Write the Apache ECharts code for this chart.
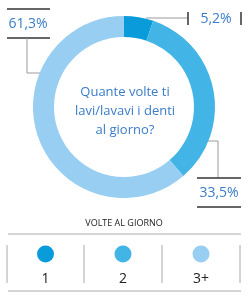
<!DOCTYPE html>
<html><head><meta charset="utf-8">
<script src="https://cdn.jsdelivr.net/npm/echarts@6/dist/echarts.min.js"></script>
<style>html,body{margin:0;padding:0;background:#fff}#c{width:250px;height:300px}</style>
</head><body><div id="c"></div>
<script>
var categories = ['1', '2', '3+'];
var values = [5.2, 33.5, 61.3];
var colors = ['#0a9bda', '#42b4e6', '#98cef1'];
var centerTitle = 'Quante volte ti\nlavi/lavavi i denti\nal giorno?';
var legendTitle = 'VOLTE AL GIORNO';

function fmt(v){ return v.toFixed(1).replace('.', ',') + '%'; }

var chart = echarts.init(document.getElementById('c'), null, {renderer:'canvas'});
var font = '"Open Sans", "Noto Sans", sans-serif';
var dark = '#333';
var grey = '#9a9a9a';
var blue = '#3a7cc8';

var g = [];
// center text
g.push({type:'text', left:'center', top:83, style:{text:centerTitle, font:'13px ' + font, fill:blue, textAlign:'center', lineHeight:19}});
// 5,2% label
g.push({type:'line', shape:{x1:146,y1:18,x2:188,y2:18}, style:{stroke:grey, lineWidth:1}});
g.push({type:'line', shape:{x1:188,y1:12,x2:188,y2:25}, style:{stroke:dark, lineWidth:1.5}});
g.push({type:'text', x:216, y:19, style:{text:fmt(values[0]), font:'14px ' + font, fill:blue, textAlign:'center', textVerticalAlign:'middle'}});
g.push({type:'line', shape:{x1:241,y1:12,x2:241,y2:25}, style:{stroke:dark, lineWidth:1.5}});
// 61,3% label
g.push({type:'line', shape:{x1:7,y1:9,x2:50,y2:9}, style:{stroke:dark, lineWidth:1.5}});
g.push({type:'text', x:28, y:24, style:{text:fmt(values[2]), font:'14px ' + font, fill:blue, textAlign:'center', textVerticalAlign:'middle'}});
g.push({type:'line', shape:{x1:7,y1:38,x2:50,y2:38}, style:{stroke:dark, lineWidth:1.5}});
g.push({type:'polyline', shape:{points:[[27,38],[27,73],[52,73]]}, style:{stroke:grey, lineWidth:1, fill:null}});
// 33,5% label
g.push({type:'polyline', shape:{points:[[198,141],[218,141],[218,178]]}, style:{stroke:grey, lineWidth:1, fill:null}});
g.push({type:'line', shape:{x1:197,y1:178,x2:241,y2:178}, style:{stroke:dark, lineWidth:1.5}});
g.push({type:'text', x:219, y:193, style:{text:fmt(values[1]), font:'14px ' + font, fill:blue, textAlign:'center', textVerticalAlign:'middle'}});
g.push({type:'line', shape:{x1:197,y1:207,x2:241,y2:207}, style:{stroke:dark, lineWidth:1.5}});
// legend
g.push({type:'text', x:124, y:223, style:{text:legendTitle, font:'9px ' + font, fill:'#222', textAlign:'center', textVerticalAlign:'middle'}});
g.push({type:'line', shape:{x1:8,y1:234,x2:241,y2:234}, style:{stroke:'#aaa', lineWidth:1}});
g.push({type:'line', shape:{x1:8,y1:291,x2:241,y2:291}, style:{stroke:'#aaa', lineWidth:1}});
var seps = [7, 84, 162, 240];
seps.forEach(function(x){ g.push({type:'line', shape:{x1:x,y1:245,x2:x,y2:283}, style:{stroke:'#aaa', lineWidth:1}}); });
categories.forEach(function(c, i){
  var cx = (seps[i] + seps[i+1]) / 2;
  g.push({type:'circle', shape:{cx:cx, cy:254, r:8.5}, style:{fill:colors[i]}});
  g.push({type:'text', x:cx, y:279, style:{text:c, font:'14px ' + font, fill:'#222', textAlign:'center', textVerticalAlign:'middle'}});
});

chart.setOption({
  animation:false,
  graphic:g,
  series:[{
    type:'pie',
    center:[124,107],
    radius:[70,91],
    startAngle:90,
    clockwise:true,
    silent:true,
    label:{show:false},
    labelLine:{show:false},
    itemStyle:{borderWidth:0},
    data: categories.map(function(c,i){ return {name:c, value:values[i], itemStyle:{color:colors[i]}}; })
  }]
});
</script></body></html>
